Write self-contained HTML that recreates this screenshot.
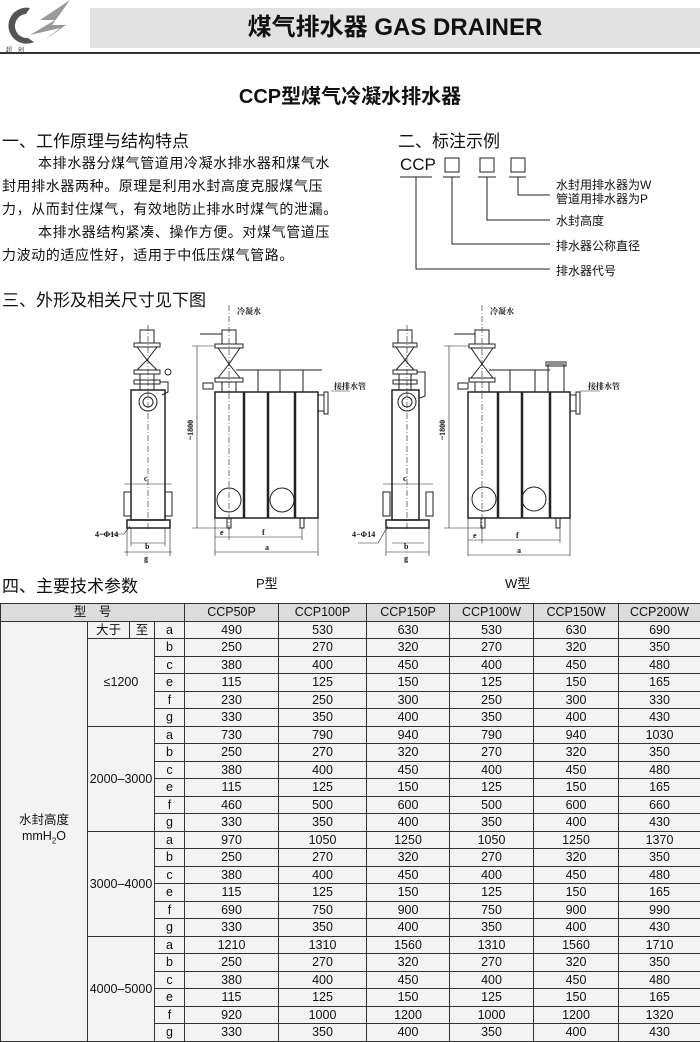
<!DOCTYPE html>
<html><head><meta charset="utf-8">
<style>
*{margin:0;padding:0;box-sizing:border-box}
body{width:700px;height:1041px;position:relative;background:#fff;font-family:"Liberation Sans","Noto Sans CJK SC",sans-serif;color:#111;overflow:hidden}
.abs{position:absolute;white-space:nowrap}
.h{font-size:17px}
.p{font-size:14px;letter-spacing:0.6px}
table{position:absolute;left:0;top:603px;width:700px;border-collapse:collapse;table-layout:fixed;font-size:12.5px}
td{border:1px solid #333;height:17.5px;text-align:center;padding:0;line-height:16px;background:#f3f3f3}
tr.hd td{background:#dcdcdc}
</style></head><body>
<!-- logo -->
<svg class="abs" style="left:0;top:0" width="80" height="55" viewBox="0 0 80 55">
<path d="M30 8 A18 18 0 1 0 34 42 L28 38 A12 12 0 1 1 26 14 Z" fill="#555"/>
<path d="M70 0 L40 20 L55 20 L30 35 L60 28 L45 40 L66 25 L52 25 Z" fill="#999"/>
<text x="6" y="52" font-size="6" fill="#333">超　创</text>
</svg>
<div class="abs" style="left:90px;top:8px;width:610px;height:40px;background:#e2e2e2"></div>
<div class="abs" style="left:90px;top:10px;width:610px;text-align:center;font-size:24px;font-weight:bold;line-height:36px">煤气排水器 GAS DRAINER</div>
<div class="abs" style="left:0;top:52px;width:700px;height:2px;background:#333"></div>
<div class="abs" style="left:0;top:80px;width:700px;text-align:center;font-size:20px;font-weight:bold">CCP型煤气冷凝水排水器</div>

<div class="abs h" style="left:2px;top:127px">一、工作原理与结构特点</div>
<div class="abs p" style="left:38px;top:153px">本排水器分煤气管道用冷凝水排水器和煤气水</div>
<div class="abs p" style="left:2px;top:176px">封用排水器两种。原理是利用水封高度克服煤气压</div>
<div class="abs p" style="left:2px;top:199px">力，从而封住煤气，有效地防止排水时煤气的泄漏。</div>
<div class="abs p" style="left:38px;top:222px">本排水器结构紧凑、操作方便。对煤气管道压</div>
<div class="abs p" style="left:2px;top:245px">力波动的适应性好，适用于中低压煤气管路。</div>
<div class="abs h" style="left:2px;top:286px">三、外形及相关尺寸见下图</div>

<div class="abs h" style="left:398px;top:127px">二、标注示例</div>
<div class="abs" style="left:400px;top:155px;font-size:17px">CCP</div>
<svg class="abs" style="left:380px;top:150px" width="320" height="130">
<g fill="none" stroke="#222" stroke-width="1">
<rect x="65" y="8" width="14" height="14"/><rect x="100" y="8" width="14" height="14"/><rect x="131" y="8" width="14" height="14"/>
<line x1="20" y1="27" x2="52" y2="27"/><line x1="63" y1="27" x2="80" y2="27"/><line x1="98" y1="27" x2="116" y2="27"/><line x1="129" y1="27" x2="146" y2="27"/>
<polyline points="138,27 138,45 170,45"/>
<polyline points="107,27 107,70 170,70"/>
<polyline points="72,27 72,94 170,94"/>
<polyline points="36,27 36,119 170,119"/>
</g></svg>
<div class="abs" style="left:556px;top:178px;font-size:12px;line-height:14px">水封用排水器为W<br>管道用排水器为P</div>
<div class="abs" style="left:556px;top:212px;font-size:12px">水封高度</div>
<div class="abs" style="left:556px;top:237px;font-size:12px">排水器公称直径</div>
<div class="abs" style="left:556px;top:262px;font-size:12px">排水器代号</div>

<svg class="abs" style="left:0;top:300px" width="700" height="300" viewBox="0 300 700 300" font-family="Liberation Serif,Noto Serif CJK SC,serif" font-size="8">
<g fill="none" stroke="#222" stroke-width="1">
<!-- P left -->
<rect x="140" y="330" width="14" height="13"/><rect x="134" y="343" width="26" height="4"/>
<path d="M137 347 L147 360 L157 347 M147 360 L137 370 M147 360 L157 370"/>
<rect x="134" y="370" width="26" height="4"/><rect x="140" y="374" width="14" height="16"/><rect x="134" y="380" width="26" height="4"/>
<path d="M160 382 L168 382 L168 392 L162 395"/><circle cx="168" cy="372" r="3"/>
<rect x="131" y="390" width="34" height="130" stroke-width="1.5"/>
<circle cx="148" cy="402" r="9"/><circle cx="148" cy="402" r="5"/>
<rect x="124" y="492" width="7" height="24"/><rect x="165" y="492" width="7" height="24"/>
<rect x="127" y="520" width="43" height="8" stroke-width="1.5"/>
<line x1="148" y1="325" x2="148" y2="530" stroke-dasharray="6 2 1 2" stroke-width=".6"/>
<line x1="124" y1="484" x2="172" y2="484" stroke-width=".6"/>
<line x1="131" y1="543" x2="165" y2="543" stroke-width=".6"/>
<line x1="124" y1="552" x2="172" y2="552" stroke-width=".6"/>
<line x1="127" y1="528" x2="127" y2="556" stroke-width=".6"/><line x1="170" y1="528" x2="170" y2="556" stroke-width=".6"/>
<line x1="131" y1="528" x2="131" y2="546" stroke-width=".6"/><line x1="165" y1="528" x2="165" y2="546" stroke-width=".6"/>
<path d="M100 534 L124 534 L130 526" stroke-width=".6"/>
<!-- P right -->
<rect x="222" y="330" width="14" height="14"/><rect x="215" y="344" width="28" height="4"/>
<path d="M218 348 L229 364 L240 348 M229 364 L218 378 M229 364 L240 378"/>
<rect x="215" y="378" width="28" height="4"/><rect x="222" y="382" width="14" height="10"/>
<line x1="200" y1="334" x2="222" y2="334"/><rect x="203" y="383" width="10" height="6"/>
<line x1="236" y1="370" x2="322" y2="370"/>
<line x1="258" y1="370" x2="258" y2="392"/><line x1="280" y1="370" x2="280" y2="392"/><line x1="303" y1="370" x2="303" y2="392"/>
<rect x="215" y="392" width="103" height="126" stroke-width="1.5"/>
<line x1="244" y1="392" x2="244" y2="518" stroke-width="2.5"/><line x1="268" y1="392" x2="268" y2="518" stroke-width="2.5"/><line x1="295" y1="392" x2="295" y2="518" stroke-width="2.5"/>
<rect x="318" y="395" width="6" height="16"/><rect x="324" y="392" width="4" height="22"/>
<circle cx="229" cy="500" r="12"/><circle cx="282" cy="500" r="12"/>
<rect x="227" y="518" width="4" height="10"/><rect x="300" y="518" width="4" height="10"/>
<line x1="229" y1="305" x2="229" y2="530" stroke-dasharray="6 2 1 2" stroke-width=".6"/>
<line x1="197" y1="346" x2="197" y2="528" stroke-width=".6"/>
<line x1="192" y1="346" x2="215" y2="346" stroke-width=".6"/><line x1="192" y1="528" x2="229" y2="528" stroke-width=".6"/>
<line x1="215" y1="518" x2="215" y2="556" stroke-width=".6"/><line x1="318" y1="518" x2="318" y2="556" stroke-width=".6"/>
<line x1="215" y1="537" x2="302" y2="537" stroke-width=".6"/><line x1="229" y1="528" x2="229" y2="540" stroke-width=".6"/><line x1="302" y1="528" x2="302" y2="540" stroke-width=".6"/>
<line x1="215" y1="552" x2="318" y2="552" stroke-width=".6"/>
<!-- W left -->
<rect x="398" y="330" width="14" height="13"/><rect x="393" y="343" width="24" height="4"/>
<path d="M396 347 L405 360 L414 347 M405 360 L396 370 M405 360 L414 370"/>
<rect x="393" y="370" width="24" height="4"/><rect x="399" y="374" width="12" height="16"/><rect x="393" y="380" width="24" height="4"/>
<path d="M417 372 L425 372 L425 396 L420 398"/>
<rect x="392" y="390" width="27" height="130" stroke-width="1.5"/>
<circle cx="407" cy="402" r="9"/><circle cx="407" cy="402" r="5"/>
<rect x="383" y="492" width="7" height="24"/><rect x="426" y="492" width="7" height="24"/>
<rect x="386" y="520" width="43" height="8" stroke-width="1.5"/>
<line x1="407" y1="325" x2="407" y2="530" stroke-dasharray="6 2 1 2" stroke-width=".6"/>
<line x1="383" y1="484" x2="433" y2="484" stroke-width=".6"/>
<line x1="392" y1="543" x2="424" y2="543" stroke-width=".6"/>
<line x1="386" y1="552" x2="429" y2="552" stroke-width=".6"/>
<line x1="386" y1="528" x2="386" y2="556" stroke-width=".6"/><line x1="429" y1="528" x2="429" y2="556" stroke-width=".6"/>
<path d="M358 543 L378 543 L388 526" stroke-width=".6"/>
<!-- W right -->
<rect x="475" y="330" width="14" height="14"/><rect x="469" y="344" width="26" height="4"/>
<path d="M471 348 L482 364 L493 348 M482 364 L471 378 M482 364 L493 378"/>
<rect x="469" y="378" width="26" height="4"/><rect x="475" y="382" width="14" height="10"/>
<line x1="454" y1="334" x2="475" y2="334"/><rect x="458" y="383" width="10" height="6"/>
<line x1="489" y1="370" x2="550" y2="370"/>
<line x1="510" y1="370" x2="510" y2="392"/><line x1="535" y1="370" x2="535" y2="392"/>
<rect x="548" y="364" width="16" height="28"/><rect x="546" y="362" width="20" height="4"/>
<rect x="468" y="392" width="102" height="126" stroke-width="1.5"/>
<line x1="498" y1="392" x2="498" y2="518" stroke-width="2.5"/><line x1="522" y1="392" x2="522" y2="518" stroke-width="2.5"/><line x1="550" y1="392" x2="550" y2="518" stroke-width="2.5"/>
<rect x="570" y="395" width="6" height="16"/><rect x="576" y="392" width="4" height="22"/>
<circle cx="484" cy="499" r="12"/><circle cx="534" cy="499" r="12"/>
<rect x="481" y="518" width="4" height="10"/><rect x="556" y="518" width="4" height="10"/>
<line x1="482" y1="305" x2="482" y2="530" stroke-dasharray="6 2 1 2" stroke-width=".6"/>
<line x1="449" y1="346" x2="449" y2="528" stroke-width=".6"/>
<line x1="444" y1="346" x2="469" y2="346" stroke-width=".6"/><line x1="444" y1="528" x2="482" y2="528" stroke-width=".6"/>
<line x1="468" y1="518" x2="468" y2="556" stroke-width=".6"/><line x1="570" y1="518" x2="570" y2="556" stroke-width=".6"/>
<line x1="468" y1="540" x2="560" y2="540" stroke-width=".6"/><line x1="482" y1="528" x2="482" y2="543" stroke-width=".6"/><line x1="560" y1="528" x2="560" y2="543" stroke-width=".6"/>
<line x1="468" y1="555" x2="570" y2="555" stroke-width=".6"/>
<line x1="580" y1="391" x2="600" y2="391" stroke-width=".6"/><line x1="331" y1="391" x2="350" y2="391" stroke-width=".6"/>
</g>
<g fill="#111" font-weight="bold">
<text x="237" y="314">冷凝水</text><text x="490" y="314">冷凝水</text>
<text x="334" y="389">接排水管</text><text x="588" y="389">接排水管</text>
<text x="144" y="481">c</text><text x="145" y="549">b</text><text x="145" y="551" dy="0">&#8203;</text>
<text x="403" y="481">c</text><text x="404" y="549">b</text>
<text x="144" y="561">g</text><text x="404" y="561">g</text>
<text x="220" y="535">e</text><text x="262" y="535">f</text><text x="265" y="550">a</text>
<text x="473" y="538">e</text><text x="516" y="538">f</text><text x="517" y="553">a</text>
<text x="95" y="537">4−Φ14</text><text x="352" y="537">4−Φ14</text>
<text transform="translate(193,440) rotate(-90)">~1800</text>
<text transform="translate(445,440) rotate(-90)">~1800</text>
</g>
</svg>

<div class="abs h" style="left:2px;top:572px">四、主要技术参数</div>
<div class="abs" style="left:256px;top:573px;font-size:13px">P型</div>
<div class="abs" style="left:505px;top:573px;font-size:13px">W型</div>

<table>
<colgroup><col style="width:87px"><col style="width:42px"><col style="width:25px"><col style="width:30px"><col style="width:94px"><col style="width:88px"><col style="width:83px"><col style="width:84px"><col style="width:85px"><col style="width:82px"></colgroup>
<tr class="hd"><td colspan="4">型　号</td><td>CCP50P</td><td>CCP100P</td><td>CCP150P</td><td>CCP100W</td><td>CCP150W</td><td>CCP200W</td></tr>
<tr><td rowspan="24" style="background:#f3f3f3">水封高度<br>mmH<sub style="font-size:8px">2</sub>O</td><td>大于</td><td>至</td><td>a</td><td>490</td><td>530</td><td>630</td><td>530</td><td>630</td><td>690</td></tr>
<tr><td colspan="2" rowspan="5">≤1200</td><td>b</td><td>250</td><td>270</td><td>320</td><td>270</td><td>320</td><td>350</td></tr>
<tr><td>c</td><td>380</td><td>400</td><td>450</td><td>400</td><td>450</td><td>480</td></tr>
<tr><td>e</td><td>115</td><td>125</td><td>150</td><td>125</td><td>150</td><td>165</td></tr>
<tr><td>f</td><td>230</td><td>250</td><td>300</td><td>250</td><td>300</td><td>330</td></tr>
<tr><td>g</td><td>330</td><td>350</td><td>400</td><td>350</td><td>400</td><td>430</td></tr>
<tr><td colspan="2" rowspan="6">2000–3000</td><td>a</td><td>730</td><td>790</td><td>940</td><td>790</td><td>940</td><td>1030</td></tr>
<tr><td>b</td><td>250</td><td>270</td><td>320</td><td>270</td><td>320</td><td>350</td></tr>
<tr><td>c</td><td>380</td><td>400</td><td>450</td><td>400</td><td>450</td><td>480</td></tr>
<tr><td>e</td><td>115</td><td>125</td><td>150</td><td>125</td><td>150</td><td>165</td></tr>
<tr><td>f</td><td>460</td><td>500</td><td>600</td><td>500</td><td>600</td><td>660</td></tr>
<tr><td>g</td><td>330</td><td>350</td><td>400</td><td>350</td><td>400</td><td>430</td></tr>
<tr><td colspan="2" rowspan="6">3000–4000</td><td>a</td><td>970</td><td>1050</td><td>1250</td><td>1050</td><td>1250</td><td>1370</td></tr>
<tr><td>b</td><td>250</td><td>270</td><td>320</td><td>270</td><td>320</td><td>350</td></tr>
<tr><td>c</td><td>380</td><td>400</td><td>450</td><td>400</td><td>450</td><td>480</td></tr>
<tr><td>e</td><td>115</td><td>125</td><td>150</td><td>125</td><td>150</td><td>165</td></tr>
<tr><td>f</td><td>690</td><td>750</td><td>900</td><td>750</td><td>900</td><td>990</td></tr>
<tr><td>g</td><td>330</td><td>350</td><td>400</td><td>350</td><td>400</td><td>430</td></tr>
<tr><td colspan="2" rowspan="6">4000–5000</td><td>a</td><td>1210</td><td>1310</td><td>1560</td><td>1310</td><td>1560</td><td>1710</td></tr>
<tr><td>b</td><td>250</td><td>270</td><td>320</td><td>270</td><td>320</td><td>350</td></tr>
<tr><td>c</td><td>380</td><td>400</td><td>450</td><td>400</td><td>450</td><td>480</td></tr>
<tr><td>e</td><td>115</td><td>125</td><td>150</td><td>125</td><td>150</td><td>165</td></tr>
<tr><td>f</td><td>920</td><td>1000</td><td>1200</td><td>1000</td><td>1200</td><td>1320</td></tr>
<tr><td>g</td><td>330</td><td>350</td><td>400</td><td>350</td><td>400</td><td>430</td></tr>
</table>
</body></html>
